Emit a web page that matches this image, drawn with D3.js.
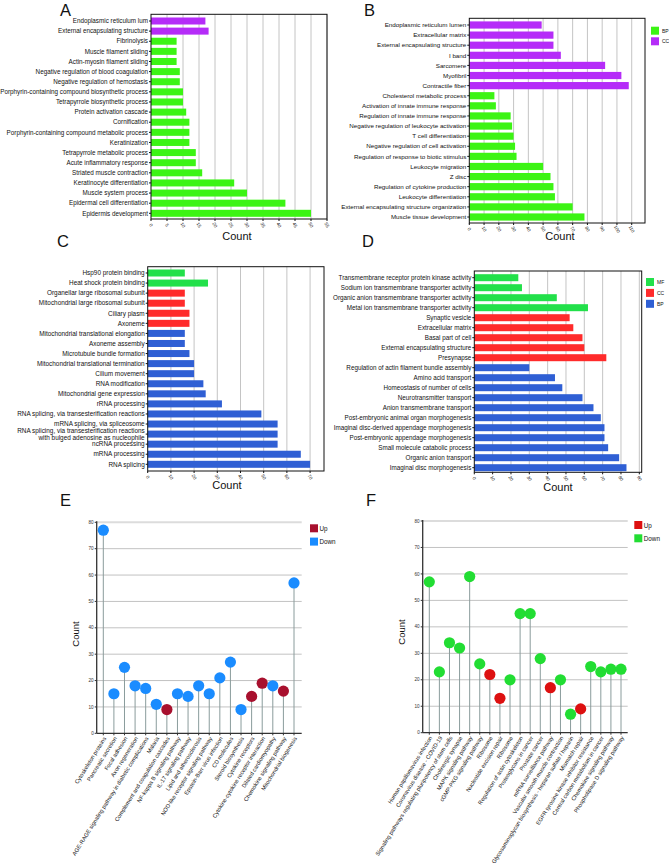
<!DOCTYPE html>
<html>
<head>
<meta charset="utf-8">
<script src="https://cdn.jsdelivr.net/npm/d3@7"></script>
<style>
html,body{margin:0;padding:0;background:#fff;}
svg{display:block;font-family:"Liberation Sans",Arial,sans-serif;}
</style>
</head>
<body>
<svg id="chart" width="669" height="867"></svg>
<script>
// ---------- Panel A (GO, BP / CC) ----------
const aTerms = ["Endoplasmic reticulum lum","External encapsulating structure","Fibrinolysis","Muscle filament sliding","Actin-myosin filament sliding","Negative regulation of blood coagulation","Negative regulation of hemostasis","Porphyrin-containing compound biosynthetic process","Tetrapyrrole biosynthetic process","Protein activation cascade","Cornification","Porphyrin-containing compound metabolic process","Keratinization","Tetrapyrrole metabolic process","Acute inflammatory response","Striated muscle contraction","Keratinocyte differentiation","Muscle system process","Epidermal cell differentiation","Epidermis development"];
const aCounts = [17,18,8,8,8,9,9,10,10,11,12,12,12,14,14,16,26,30,42,50];
const aGroups = ["CC","CC","BP","BP","BP","BP","BP","BP","BP","BP","BP","BP","BP","BP","BP","BP","BP","BP","BP","BP"];
const aTicks = [0,5,10,15,20,25,30,35,40,45,50,55];

// ---------- Panel B (GO, BP / CC) ----------
const bTerms = ["Endoplasmic reticulum lumen","Extracellular matrix","External encapsulating structure","I band","Sarcomere","Myofibril","Contractile fiber","Cholesterol metabolic process","Activation of innate immune response","Regulation of innate immune response","Negative regulation of leukocyte activation","T cell differentiation","Negative regulation of cell activation","Regulation of response to biotic stimulus","Leukocyte migration","Z disc","Regulation of cytokine production","Leukocyte differentiation","External encapsulating structure organization","Muscle tissue development"];
const bCounts = [49,57,57,62,92,103,108,17,18,28,29,30,31,32,50,55,57,58,70,78];
const bGroups = ["CC","CC","CC","CC","CC","CC","CC","BP","BP","BP","BP","BP","BP","BP","BP","BP","BP","BP","BP","BP"];
const bTicks = [0,10,20,30,40,50,60,70,80,90,100,110];
const bLegend = ["BP","CC"];

// ---------- Panel C (GO, MF / CC / BP) ----------
const cTerms = ["Hsp90 protein binding","Heat shock protein binding","Organellar large ribosomal subunit","Mitochondrial large ribosomal subunit","Ciliary plasm","Axoneme","Mitochondrial translational elongation","Axoneme assembly","Microtubule bundle formation","Mitochondrial translational termination","Cilium movement","RNA modification","Mitochondrial gene expression","rRNA processing","RNA splicing, via transesterification reactions","mRNA splicing, via spliceosome","RNA splicing, via transesterification reactions\nwith bulged adenosine as nucleophile","ncRNA processing","mRNA processing","RNA splicing"];
const cCounts = [16,26,16,16,18,18,16,16,18,20,20,24,25,32,49,56,56,56,66,70];
const cGroups = ["MF","MF","CC","CC","CC","CC","BP","BP","BP","BP","BP","BP","BP","BP","BP","BP","BP","BP","BP","BP"];
const cTicks = [0,10,20,30,40,50,60,70];

// ---------- Panel D (GO, MF / CC / BP) ----------
const dTerms = ["Transmembrane receptor protein kinase activity","Sodium ion transmembrane transporter activity","Organic anion transmembrane transporter activity","Metal ion transmembrane transporter activity","Synaptic vesicle","Extracellular matrix","Basal part of cell","External encapsulating structure","Presynapse","Regulation of actin filament bundle assembly","Amino acid transport","Homeostasis of number of cells","Neurotransmitter transport","Anion transmembrane transport","Post-embryonic animal organ morphogenesis","Imaginal disc-derived appendage morphogenesis","Post-embryonic appendage morphogenesis","Small molecule catabolic process","Organic anion transport","Imaginal disc morphogenesis"];
const dCounts = [24,26,45,62,52,54,59,60,72,30,44,48,59,65,69,71,71,73,79,83];
const dGroups = ["MF","MF","MF","MF","CC","CC","CC","CC","CC","BP","BP","BP","BP","BP","BP","BP","BP","BP","BP","BP"];
const dTicks = [0,10,20,30,40,50,60,70,80,90];
const dLegend = ["MF","CC","BP"];

// ---------- Panel E (KEGG lollipop) ----------
const ePathways = ["Cytoskeleton proteins","Pancreatic secretion","Focal adhesion","Axon regeneration","AGE-RAGE signaling pathway in diabetic complications","Malaria","Complement and coagulation cascades","NF-kappa B signaling pathway","IL-17 signaling pathway","Lipid and atherosclerosis","NOD-like receptor signaling pathway","Epstein-Barr virus infection","CD molecules","Steroid biosynthesis","Cytokine receptors","Cytokine-cytokine receptor interaction","Dilated cardiomyopathy","Chemokine signaling pathway","Mitochondrial biogenesis"];
const eCounts = [77,15,25,18,17,11,9,15,14,18,15,21,27,9,14,19,18,16,57];
const eRegulation = ["Down","Down","Down","Down","Down","Down","Up","Down","Down","Down","Down","Down","Down","Down","Up","Up","Down","Up","Down"];

// ---------- Panel F (KEGG lollipop) ----------
const fPathways = ["Human papillomavirus infection","Coronavirus disease - COVID-19","Signaling pathways regulating pluripotency of stem cells","Cholinergic synapse","MAPK signaling pathway","cGMP-PKG signaling pathway","Ribosome","Nucleotide excision repair","Ribosome","Regulation of actin cytoskeleton","Proteoglycans in cancer","Prostate cancer","mRNA surveillance pathway","Vascular smooth muscle contraction","Glycosaminoglycan biosynthesis - heparan sulfate / heparin","Mismatch repair","EGFR tyrosine kinase inhibitor resistance","Central carbon metabolism in cancer","Chemokine signaling pathway","Phospholipase D signaling pathway"];
const fCounts = [57,23,34,32,59,26,22,13,20,45,45,28,17,20,7,9,25,23,24,24];
const fRegulation = ["Down","Down","Down","Down","Down","Down","Up","Up","Down","Down","Down","Down","Up","Down","Down","Up","Down","Down","Down","Down"];

const lollipopTicks = [0,10,20,30,40,50,60,70,80];
const regLegend = ["Up","Down"];

const svg = d3.select("#chart");

function barPanel(o) {
  const g = svg.append("g");
  const idx = o.terms.map((t,i)=>i);
  const x = d3.scaleLinear().domain([0, o.max]).range([o.l, o.r]);
  const y = d3.scalePoint().domain(idx).range([o.c0, o.c1]);
  g.selectAll("line.grid").data(o.ticks.filter(t=>t>0)).enter().append("line")
    .attr("x1", d=>x(d)).attr("x2", d=>x(d)).attr("y1", o.t).attr("y2", o.b)
    .attr("stroke", "#c4c4c4").attr("stroke-width", 1);
  g.selectAll("rect.bar").data(idx).enter().append("rect")
    .attr("x", x(0)).attr("y", i=>y(i)-o.bh/2)
    .attr("width", i=>x(o.counts[i])-x(0)).attr("height", o.bh)
    .attr("fill", i=>o.colors[o.groups[i]]);
  g.append("rect").attr("x", o.l).attr("y", o.t).attr("width", o.r-o.l).attr("height", o.b-o.t)
    .attr("fill","none").attr("stroke","#111").attr("stroke-width",1);
  g.selectAll("line.yt").data(idx).enter().append("line")
    .attr("x1", o.l-2).attr("x2", o.l).attr("y1", i=>y(i)).attr("y2", i=>y(i))
    .attr("stroke","#111").attr("stroke-width",1);
  idx.forEach(i=>{
    const lines = o.terms[i].split("\n");
    const t = g.append("text").attr("x", o.l-3).attr("text-anchor","end")
      .attr("font-size", o.fs).attr("fill","#111");
    const lh = o.fs*1.05;
    lines.forEach((ln,k)=>{
      t.append("tspan").attr("x", o.l-3)
        .attr("y", y(i) + o.fs*0.35 + (k-(lines.length-1)/2)*lh).text(ln);
    });
  });
  g.selectAll("line.xt").data(o.ticks).enter().append("line")
    .attr("x1", d=>x(d)).attr("x2", d=>x(d)).attr("y1", o.b).attr("y2", o.b+2)
    .attr("stroke","#111").attr("stroke-width",1);
  g.selectAll("text.xl").data(o.ticks).enter().append("text")
    .attr("transform", d=>`translate(${x(d)},${o.b+6}) rotate(60)`)
    .attr("text-anchor","middle").attr("font-size",4.6).attr("fill","#222")
    .attr("dy","0.35em").text(d=>d);
  g.append("text").attr("x", o.cx).attr("y", o.cy).attr("text-anchor","middle")
    .attr("font-size", 11).attr("fill","#111").text("Count");
  if (o.legend) {
    o.legend.forEach((k,j)=>{
      g.append("rect").attr("x", o.lx).attr("y", o.ly + j*o.lstep).attr("width",8).attr("height",8)
        .attr("fill", o.colors[k]);
      g.append("text").attr("x", o.lx+11).attr("y", o.ly + j*o.lstep + 6)
        .attr("font-size",5).attr("fill","#111").text(k);
    });
  }
}

const goA = {BP:"#3cf414", CC:"#b52cf8"};
const goC = {MF:"#22e04a", CC:"#ff2b2b", BP:"#2f5fd4"};

barPanel({terms:aTerms, counts:aCounts, groups:aGroups, colors:goA, ticks:aTicks, max:55,
  l:151, r:327, t:14.3, b:219, c0:21, c1:213.3, bh:7, fs:6.3, cx:237, cy:240});
barPanel({terms:bTerms, counts:bCounts, groups:bGroups, colors:goA, ticks:bTicks, max:119,
  l:469.3, r:645, t:18.3, b:223, c0:25, c1:217, bh:7.2, fs:6.25, cx:560, cy:240,
  legend:bLegend, lx:651, ly:26.7, lstep:10.6});
barPanel({terms:cTerms, counts:cCounts, groups:cGroups, colors:goC, ticks:cTicks, max:76,
  l:147.7, r:324, t:266.7, b:471, c0:273, c1:464.3, bh:7, fs:6.4, cx:227, cy:489});
barPanel({terms:dTerms, counts:dCounts, groups:dGroups, colors:goC, ticks:dTicks, max:91.3,
  l:474.3, r:641.7, t:271, b:472.3, c0:277.7, c1:467.7, bh:7, fs:6.3, cx:558, cy:491,
  legend:dLegend, lx:646, ly:278, lstep:10.9});

function lollipop(o) {
  const g = svg.append("g");
  const idx = o.names.map((t,i)=>i);
  const y = d3.scaleLinear().domain([0,80]).range([o.y0, o.y80]);
  const x = d3.scalePoint().domain(idx).range([o.x0, o.x1]);
  g.selectAll("line.grid").data(lollipopTicks.filter(t=>t>0)).enter().append("line")
    .attr("x1", o.ax).attr("x2", o.gr).attr("y1", d=>y(d)).attr("y2", d=>y(d))
    .attr("stroke", d=>d===80?"#dcdcdc":"#c2c2c2").attr("stroke-width", d=>d===80?2:1);
  g.selectAll("line.stem").data(idx).enter().append("line")
    .attr("x1", i=>x(i)).attr("x2", i=>x(i)).attr("y1", y(0)).attr("y2", i=>y(o.counts[i]))
    .attr("stroke","#8a9c9c").attr("stroke-width",1);
  g.selectAll("circle").data(idx).enter().append("circle")
    .attr("cx", i=>x(i)).attr("cy", i=>y(o.counts[i])).attr("r",5.6)
    .attr("fill", i=>o.colors[o.reg[i]]);
  g.append("line").attr("x1",o.ax).attr("x2",o.ax).attr("y1",y(0)).attr("y2",y(80)-1)
    .attr("stroke","#333").attr("stroke-width",1.3);
  g.append("line").attr("x1",o.ax).attr("x2",o.gr).attr("y1",y(0)).attr("y2",y(0))
    .attr("stroke","#333").attr("stroke-width",1.3);
  g.selectAll("line.yt").data(lollipopTicks).enter().append("line")
    .attr("x1",o.ax-2).attr("x2",o.ax).attr("y1",d=>y(d)).attr("y2",d=>y(d))
    .attr("stroke","#333").attr("stroke-width",1);
  g.selectAll("text.yl").data(lollipopTicks).enter().append("text")
    .attr("x",o.ax-3).attr("y",d=>y(d)).attr("dy","0.35em").attr("text-anchor","end")
    .attr("font-size",4.6).attr("fill","#333").text(d=>d);
  g.selectAll("line.xt").data(idx).enter().append("line")
    .attr("x1",i=>x(i)).attr("x2",i=>x(i)).attr("y1",y(0)).attr("y2",y(0)+2)
    .attr("stroke","#333").attr("stroke-width",1);
  g.selectAll("text.xl").data(idx).enter().append("text")
    .attr("transform", i=>`translate(${x(i)+1.5},${y(0)+4}) rotate(-58)`)
    .attr("text-anchor","end").attr("dy","0.35em").attr("font-size",5.65).attr("fill","#111")
    .text(i=>o.names[i]);
  g.append("text").attr("transform",`translate(${o.tx},${o.ty}) rotate(-90)`)
    .attr("text-anchor","middle").attr("font-size",9.5).attr("fill","#111").text("Count");
  regLegend.forEach((k,j)=>{
    g.append("rect").attr("x",o.lx).attr("y",o.ly+j*13.3).attr("width",8).attr("height",8)
      .attr("fill",o.colors[k]);
    g.append("text").attr("x",o.lx+9.5).attr("y",o.ly+j*13.3+6.5).attr("font-size",6.3)
      .attr("fill","#111").text(k);
  });
}

lollipop({names:ePathways, counts:eCounts, reg:eRegulation, colors:{Up:"#a8102e", Down:"#1a8cff"},
  ax:96.7, gr:301.7, y0:733.3, y80:522.3, x0:103.3, x1:294, tx:79, ty:634, lx:310, ly:524.3});
lollipop({names:fPathways, counts:fCounts, reg:fRegulation, colors:{Up:"#dd1010", Down:"#22dd33"},
  ax:422.7, gr:627.7, y0:732.7, y80:521, x0:429.3, x1:621, tx:405, ty:632, lx:634.3, ly:521});

const letters = [["A",60,15.5],["B",364,15.5],["C",57,247],["D",362,247],["E",60,505.5],["F",366,505.5]];
svg.selectAll("text.letter").data(letters).enter().append("text")
  .attr("x",d=>d[1]).attr("y",d=>d[2]).attr("font-size",16.5).attr("fill","#111").text(d=>d[0]);
</script>
</body>
</html>
